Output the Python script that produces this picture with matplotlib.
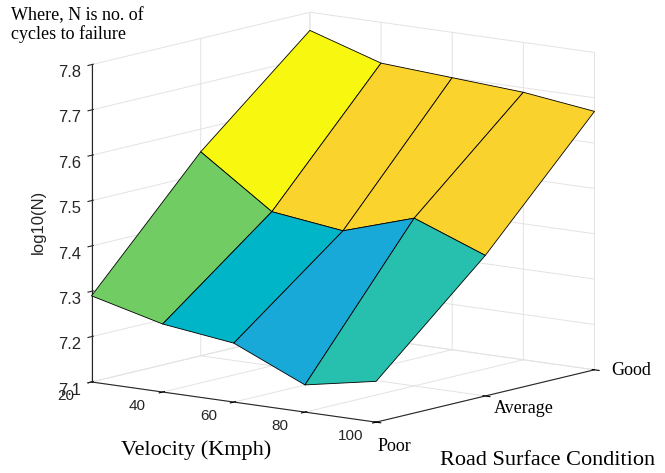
import matplotlib.pyplot as plt
import numpy as np
from matplotlib.colors import LinearSegmentedColormap, Normalize

velocity = [20, 40, 60, 80, 100]
road = ['Poor', 'Average', 'Good']
# log10(N) per road condition, one value per velocity
log_poor = [7.29, 7.25, 7.23, 7.16, 7.19]
log_avg = [7.55, 7.44, 7.42, 7.47, 7.41]
log_good = [7.76, 7.71, 7.70, 7.69, 7.67]
z_ticks = [7.1, 7.2, 7.3, 7.4, 7.5, 7.6, 7.7, 7.8]

# something close to matlab's parula
parula = LinearSegmentedColormap.from_list('parula_like', [
    (0.0, (0.24, 0.15, 0.66)),
    (0.2, (0.16, 0.47, 0.95)),
    (0.43, (0.10, 0.66, 0.85)),
    (0.467, (0.0, 0.71, 0.78)),
    (0.517, (0.15, 0.75, 0.68)),
    (0.65, (0.44, 0.80, 0.39)),
    (0.8, (0.90, 0.74, 0.25)),
    (0.88, (0.98, 0.82, 0.18)),
    (0.92, (0.98, 0.83, 0.17)),
    (1.0, (0.97, 0.97, 0.06)),
])

# rows go Good -> Poor so each face takes the colour of its upper road corner
Z = np.array([log_good, log_avg, log_poor])
yy = np.arange(len(road))[::-1]
X, Y = np.meshgrid(velocity, yy)
norm = Normalize(Z.min(), Z.max())

fig = plt.figure(figsize=(6.65, 4.73), dpi=100)
ax = fig.add_axes([0.016, 0.017, 0.98, 1.02], projection='3d')
ax.set_proj_type('ortho')
ax.view_init(elev=10.6, azim=-52.5)
ax.set_box_aspect((1, 1, 0.9), zoom=1.21)

surf = ax.plot_surface(X, Y, Z, facecolors=parula(norm(Z)), edgecolor='k',
                       linewidth=0.6, shade=False, rstride=1, cstride=1)
surf.set_clip_on(False)

zmin = z_ticks[0]
ax.set_xlim(velocity[0], velocity[-1])
ax.set_ylim(0, len(road) - 1)
ax.set_zlim(zmin, z_ticks[-1])
ax.set_xticks(velocity)
ax.set_yticks(range(len(road)))
ax.xaxis.set_tick_params(label1On=False, label2On=False)
ax.yaxis.set_tick_params(label1On=False, label2On=False)
ax.set_zticks(z_ticks)
ax.set_zticklabels([f'{t:.1f}' for t in z_ticks])
ax.zaxis.set_ticks_position('lower')
ax.zaxis.set_tick_params(label2On=False, tick2On=False)
ax.tick_params(axis='z', labelsize=12, colors='#262626', pad=0,
               labelfontfamily='Liberation Sans')

# tick labels placed in data space, like matlab does
for v in velocity:
    ax.text(v, -0.234, zmin - 0.018, str(v), ha='center', va='center',
            fontsize=11, family='Liberation Sans', color='#262626', clip_on=False)
for i, name in enumerate(road):
    ax.text(velocity[-1] + 2.5, i * 1.07 - 0.07, zmin - 0.024 - 0.022 * (1 - i), name,
            ha='left', va='center', fontsize=13, family='Liberation Serif',
            color='black', clip_on=False)

for axis in (ax.xaxis, ax.yaxis, ax.zaxis):
    axis.set_pane_color((1, 1, 1, 0))
    axis.pane.set_edgecolor('#e3e3e3')
    axis.line.set_color('#262626')
    axis.line.set_linewidth(0.8)
    axis._axinfo['grid']['color'] = '#e3e3e3'
    axis._axinfo['grid']['linewidth'] = 0.7

fig.text(0.057, 0.531, 'log10(N)', rotation=90, fontsize=12,
         family='Liberation Sans', color='#262626', ha='center', va='center')
fig.text(0.295, 0.049, 'Velocity (Kmph)', fontsize=16,
         family='Liberation Serif', ha='center', va='center')
fig.text(0.824, 0.027, 'Road Surface Condition', fontsize=16,
         family='Liberation Serif', ha='center', va='center')
fig.text(0.017, 0.985, 'Where, N is no. of\ncycles to failure', fontsize=13,
         family='Liberation Serif', ha='left', va='top', linespacing=1.1)

fig.savefig('out.png', dpi=100)
